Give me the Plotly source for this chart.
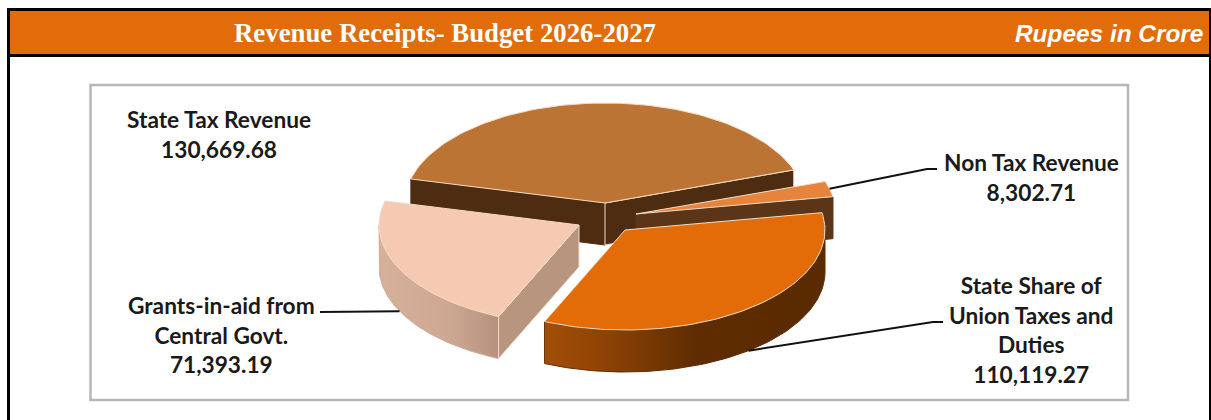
import numpy as np
import plotly.graph_objects as go

categories = ["State Tax Revenue", "Non Tax Revenue", "State Share of Union Taxes and Duties", "Grants-in-aid from Central Govt."]
values = [130669.68, 8302.71, 110119.27, 71393.19]

# projection of the tilted pie, in page pixels
RX, RY, DEPTH = 200, 100, 42
START_DEG = 166.1
centres = [(605, 203), (636, 214), (625, 230), (579, 225)]
top_colors = ["#BC7434", "#E5843A", "#E36C09", "#F6C9B2"]
wall_colors = ["#4E2C12", "#5A3517", "#5E2C00", "#B8957F"]
EDGE = "#F3DCC8"

total = sum(values)
spans = [v / total * 360 for v in values]
starts = START_DEG - np.cumsum([0] + spans[:-1])
ends = starts - np.array(spans)


def rim(i, a0, a1, drop=0, n=90):
    t = np.radians(np.linspace(a0, a1, n))
    cx, cy = centres[i]
    return cx + RX * np.cos(t), cy - RY * np.sin(t) + drop


def radial_wall(i, a):
    cx, cy = centres[i]
    x, y = rim(i, a, a, n=1)
    return [cx, x[0], x[0], cx, cx], [cy, y[0], y[0] + DEPTH, cy + DEPTH, cy]


def side(i, a0, a1):
    xt, yt = rim(i, a0, a1)
    xb, yb = rim(i, a1, a0, DEPTH)
    return np.r_[xt, xb, xt[0]], np.r_[yt, yb, yt[0]]


def top(i):
    cx, cy = centres[i]
    x, y = rim(i, starts[i], ends[i])
    return np.r_[cx, x, cx], np.r_[cy, y, cy]


fig = go.Figure()


def poly(x, y, fill, edge=None, grad=None):
    kw = dict(x=list(x), y=list(y), mode="lines", fill="toself", hoverinfo="skip", showlegend=False,
              line=dict(color=edge or fill, width=1))
    if grad:
        kw["fillgradient"] = dict(type="horizontal", colorscale=grad)
    else:
        kw["fillcolor"] = fill
    fig.add_trace(go.Scatter(**kw))


# State Tax Revenue (back slice)
poly(*radial_wall(0, starts[0]), wall_colors[0])
poly(*radial_wall(0, ends[0]), wall_colors[0], EDGE)
poly(*top(0), top_colors[0], EDGE)
# Non Tax Revenue
poly(*radial_wall(1, ends[1]), wall_colors[1])
poly(*top(1), top_colors[1], EDGE)
# Grants-in-aid
poly(*side(3, starts[3], -180), "#D0AA94",
     grad=[[0, "#D6B09B"], [0.6, "#CDA792"], [1, "#B5917E"]])
poly(*radial_wall(3, starts[3]), wall_colors[3], EDGE)
poly(*top(3), top_colors[3], EDGE)
# State Share of Union Taxes
poly(*side(2, 0, ends[2]), wall_colors[2],
     grad=[[0, "#A34E07"], [0.2, "#8F4405"], [0.55, "#5E2C00"], [1, "#5A2B00"]])
poly(*top(2), top_colors[2], EDGE)

# leader lines start on the lower rim at each slice's mid angle
mids = (starts + ends) / 2
leaders = {1: ([927, 937], [169, 169], 0), 2: ([933, 943], [322, 322], DEPTH), 3: ([320], [312], DEPTH)}
for i, (lx, ly, d) in leaders.items():
    sx, sy = rim(i, mids[i], mids[i], d, n=1)
    fig.add_trace(go.Scatter(x=[sx[0]] + lx, y=[sy[0]] + ly, mode="lines", hoverinfo="skip", showlegend=False,
                             line=dict(color="#111111", width=2)))

labels = [
    (218.5, 134.5, "State Tax Revenue<br>130,669.68"),
    (1031, 177.5, "Non Tax Revenue<br>8,302.71"),
    (1031, 330, "State Share of<br>Union Taxes and<br>Duties<br>110,119.27"),
    (221, 335, "Grants-in-aid from<br>Central Govt.<br>71,393.19"),
]
anns = [dict(x=x, y=y, xref="x", yref="y", text=f"<b>{t}</b>", showarrow=False, align="center",
             font=dict(family="Lato", size=22.7, color="#1A1A1A")) for x, y, t in labels]
anns += [
    dict(x=444.5, y=33, xref="x", yref="y", text="<b>Revenue Receipts- Budget 2026-2027</b>", showarrow=False,
         font=dict(family="Liberation Serif", size=26.8, color="#FFFFFF")),
    dict(x=1205, y=33, xref="x", yref="y", xanchor="right", text="<b><i>Rupees in Crore</i></b>", showarrow=False,
         font=dict(family="Liberation Sans", size=24.4, color="#FFFFFF")),
]


def rect(x0, y0, x1, y1, fill=None, line=None, w=0):
    return dict(type="rect", xref="x", yref="y", x0=x0, y0=y0, x1=x1, y1=y1, layer="below",
                fillcolor=fill or "rgba(0,0,0,0)", line=dict(color=line or "rgba(0,0,0,0)", width=w))


shapes = [
    rect(7, 8, 1211, 57, fill="#000000"),
    rect(10, 11, 1209, 54, fill="#E36C0A"),
    rect(7, 57, 10, 420, fill="#000000"),
    rect(1209, 57, 1211, 420, fill="#000000"),
    rect(90.5, 85, 1128, 400, line="#B7B7B7", w=2.5),
]

fig.update_layout(
    width=1211, height=420, margin=dict(l=0, r=0, t=0, b=0), autosize=False,
    paper_bgcolor="#FFFFFF", plot_bgcolor="#FFFFFF", showlegend=False,
    xaxis=dict(range=[0, 1211], visible=False, fixedrange=True),
    yaxis=dict(range=[420, 0], visible=False, fixedrange=True),
    annotations=anns, shapes=shapes,
)
fig.write_html("out.html", config={"displayModeBar": False},
               post_script="document.body.style.margin='0';document.documentElement.style.overflow='hidden';")
